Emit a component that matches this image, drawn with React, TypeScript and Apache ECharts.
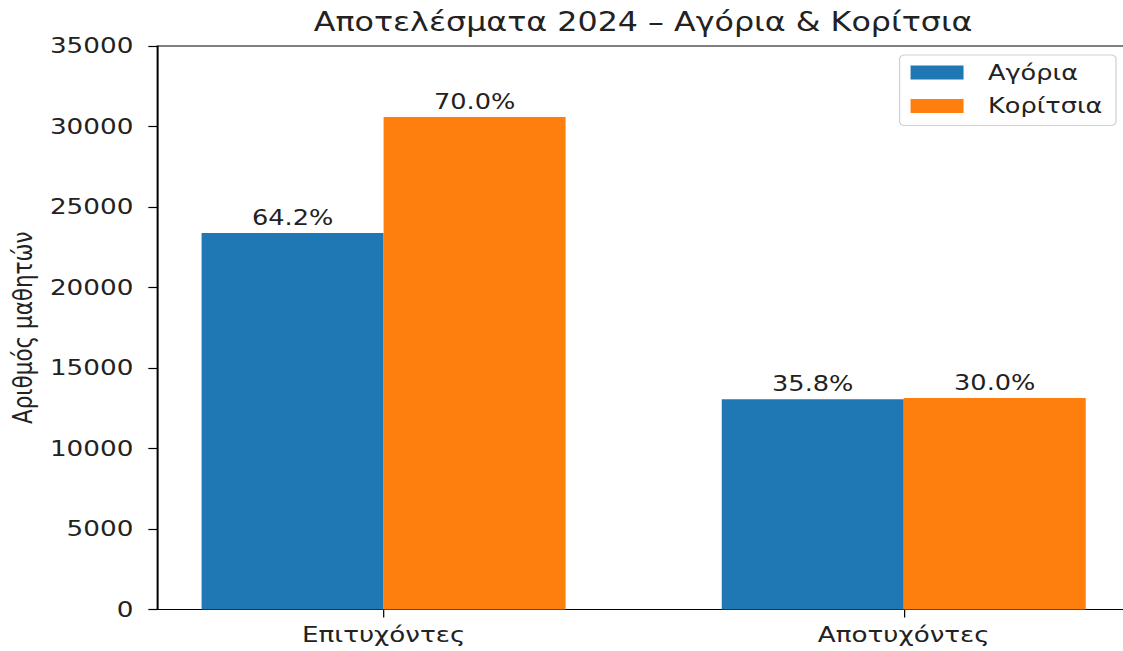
import React, { useEffect, useRef } from "react";
import * as echarts from "echarts";

const categories = ["Επιτυχόντες", "Αποτυχόντες"];
const seriesNames = ["Αγόρια", "Κορίτσια"];
const boys = [23385, 13056];
const girls = [30590, 13137];
const yTicks = [0, 5000, 10000, 15000, 20000, 25000, 30000, 35000];
const colors = ["#1f77b4", "#ff7f0e"];

const FONT = "DejaVu Sans";
// the reference figure is stretched horizontally; reproduce it with a CSS scaleX
const SX = 1.22;

export default function App() {
  const ref = useRef<HTMLDivElement>(null);
  useEffect(() => {
    if (!ref.current) return;
    const chart = echarts.init(ref.current, null, { renderer: "svg" });
    const pct = (arr: number[], i: number) =>
      ((arr[i] / (arr[0] + arr[1])) * 100).toFixed(1) + "%";
    const mk = (arr: number[], idx: number) => ({
      name: seriesNames[idx],
      type: "bar",
      barWidth: 182 / SX,
      barGap: "0%",
      data: arr.map((v, i) => [i, v]),
      itemStyle: { color: colors[idx] },
      label: {
        show: true,
        position: "top",
        distance: 5,
        fontFamily: FONT,
        fontSize: 21,
        color: "#222",
        formatter: (p: any) => pct(arr, p.dataIndex),
      },
    });
    chart.setOption({
      animation: false,
      backgroundColor: "#fff",
      title: {
        text: "Αποτελέσματα 2024 – Αγόρια & Κορίτσια",
        left: 637 / SX,
        textAlign: "center",
        top: 4,
        textStyle: { fontFamily: FONT, fontSize: 26, fontWeight: "normal", color: "#222" },
      },
      legend: {
        orient: "vertical",
        right: 940 - 1116 / SX,
        top: 55,
        itemWidth: 53 / SX,
        itemHeight: 14,
        itemGap: 12.5,
        padding: [7, 11, 9, 9],
        borderColor: "#d0d0d0",
        borderWidth: 1,
        borderRadius: 4,
        backgroundColor: "rgba(255,255,255,0.8)",
        icon: "rect",
        textStyle: { fontFamily: FONT, fontSize: 21, color: "#222", padding: [0, 0, 0, 15] },
        data: seriesNames,
      },
      grid: {
        left: 155 / SX,
        top: 46,
        width: 975 / SX,
        height: 563.5,
        show: true,
        borderColor: "#000",
        borderWidth: 1.2,
        containLabel: false,
      },
      xAxis: {
        type: "value",
        min: -0.435,
        max: 1.435,
        splitLine: { show: false },
        axisLine: { show: true, onZero: false, lineStyle: { color: "#000", width: 1.2 } },
        axisTick: { show: true, customValues: [0, 1], length: 8, lineStyle: { color: "#000", width: 1 } },
        axisLabel: {
          customValues: [0, 1],
          formatter: (v: number) => categories[Math.round(v)] ?? "",
          fontFamily: FONT,
          fontSize: 21.5,
          color: "#222",
          margin: 14,
        },
      },
      yAxis: {
        type: "value",
        min: 0,
        max: 35000,
        interval: 5000,
        name: "Αριθμός μαθητών",
        nameLocation: "middle",
        nameGap: 97,
        nameTextStyle: { fontFamily: FONT, fontSize: 21.5, color: "#222" },
        splitLine: { show: false },
        axisLine: { show: true, onZero: false, lineStyle: { color: "#000", width: 1 } },
        axisTick: { show: true, length: 9 / SX, lineStyle: { color: "#000", width: 1.2 } },
        axisLabel: {
          fontFamily: FONT,
          fontSize: 21.5,
          color: "#222",
          margin: 24 / SX,
          formatter: (v: number) => (yTicks.includes(v) ? String(v) : ""),
        },
      },
      series: [mk(boys, 0), mk(girls, 1)],
    });
    return () => chart.dispose();
  }, []);
  return (
    <div
      style={{
        position: "fixed",
        left: 0,
        top: 0,
        width: 1123,
        height: 651,
        overflow: "hidden",
        background: "#fff",
      }}
    >
      <div
        ref={ref}
        style={{
          width: 940,
          height: 651,
          transform: `scaleX(${SX})`,
          transformOrigin: "0 0",
          background: "#fff",
        }}
      />
    </div>
  );
}
